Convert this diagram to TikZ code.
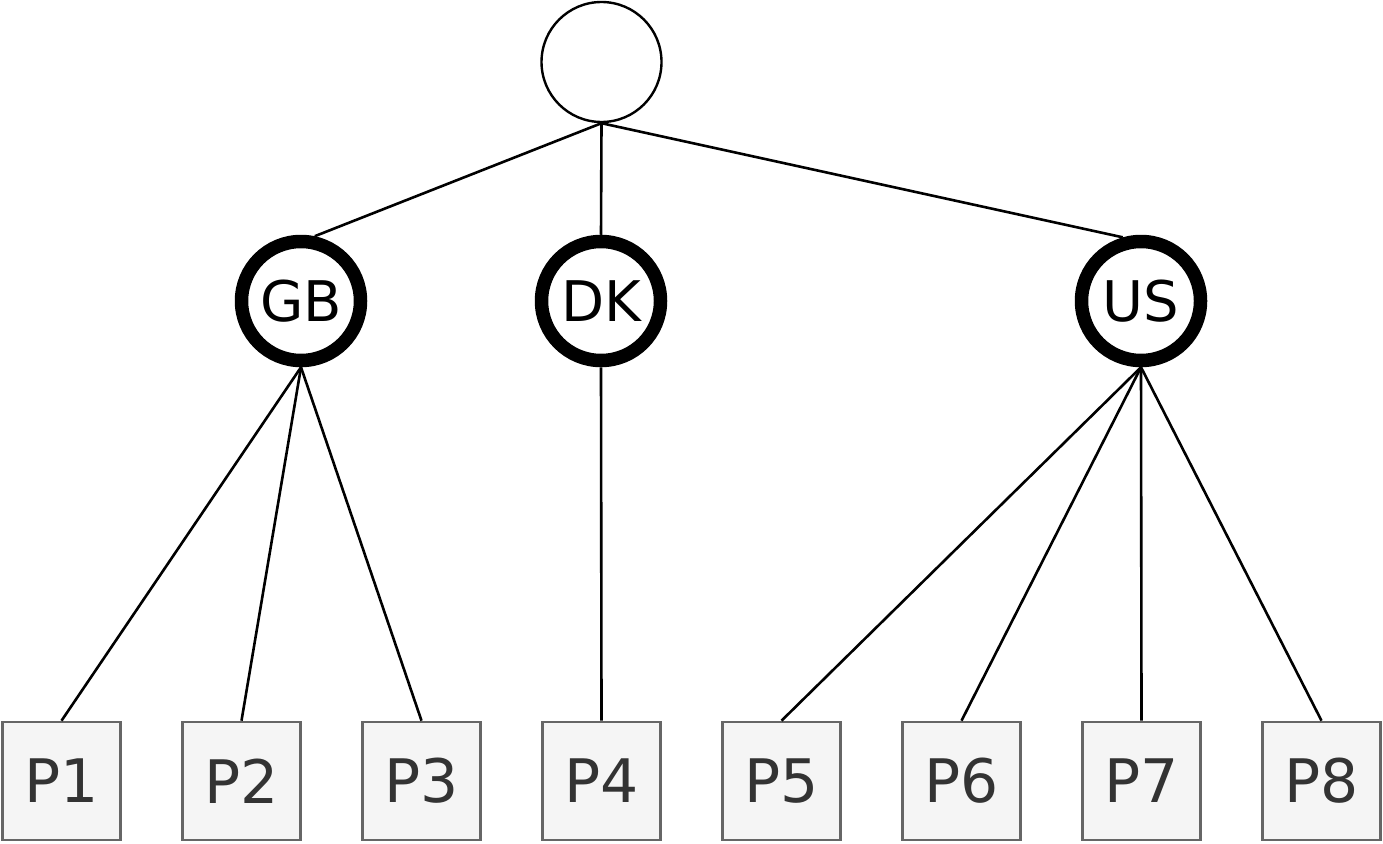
\documentclass[tikz,border=0pt]{standalone}
\usepackage{fontspec}
\setmainfont{DejaVu Sans}
\definecolor{boxfill}{HTML}{F5F5F5}
\definecolor{boxline}{HTML}{666666}
\definecolor{boxtext}{HTML}{333333}
\begin{document}
\begin{tikzpicture}[x=1pt,y=-1pt,
  rootc/.style={circle,draw=black,line width=2.4pt,minimum size=120pt,inner sep=0pt,fill=white},
  country/.style={circle,draw=black,line width=13.5pt,minimum size=119pt,inner sep=0pt,fill=white,
    font=\fontsize{56}{66}\selectfont},
  leaf/.style={rectangle,draw=boxline,fill=boxfill,line width=2.6pt,minimum size=118pt,inner sep=0pt,
    text=boxtext,font=\fontsize{60}{70}\selectfont},
  edge/.style={draw=black,line width=2.6pt}]
\useasboundingbox (0,0) rectangle (1383,843);
\node[rootc] (root) at (601.5,62) {};
\node[country] (GB) at (301,301) {GB};
\node[country] (DK) at (601,301) {DK};
\node[country] (US) at (1141,301) {US};
\foreach \i/\x in {1/61.5,2/241.5,3/421.5,4/601.5,5/781.5,6/961.5,7/1141.5,8/1321.5}{
  \node[leaf] (P\i) at (\x,781) {P\i};
}
\draw[edge] (root.south) -- (GB.78);
\draw[edge] (root.south) -- (DK.north);
\draw[edge] (root.south) -- (US.106);
\draw[edge] (GB.south) -- (P1.north);
\draw[edge] (GB.south) -- (P2.north);
\draw[edge] (GB.south) -- (P3.north);
\draw[edge] (DK.south) -- (P4.north);
\draw[edge] (US.south) -- (P5.north);
\draw[edge] (US.south) -- (P6.north);
\draw[edge] (US.south) -- (P7.north);
\draw[edge] (US.south) -- (P8.north);
\end{tikzpicture}
\end{document}
